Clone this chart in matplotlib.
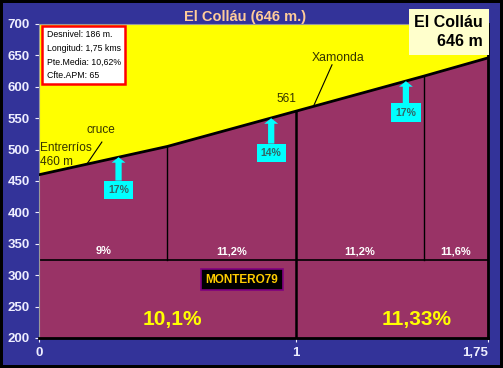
import matplotlib.pyplot as plt

# profile data (km, m)
dist = [0, 0.5, 1.0, 1.5, 1.75]
elev = [460, 505, 561, 617, 646]
seg_grades = ['9%', '11,2%', '11,2%', '11,6%']
km_grades = ['10,1%', '11,33%']
km_grade_x = [0.52, 1.47]

# steep ramps: position, elevation at tip, label
ramp_x = [0.31, 0.905, 1.43]
ramp_tip = [488, 550, 609]
ramp_box_y = [436, 495, 559]
ramp_labels = ['17%', '14%', '17%']

info_lines = ['Desnivel: 186 m.', 'Longitud: 1,75 kms', 'Pte.Media: 10,62%', 'Cfte.APM: 65']

maroon = '#993366'
blue_bg = '#333399'
tick_col = '#EEEEFF'
font = 'Liberation Sans'

plt.rcParams['font.family'] = [font, 'DejaVu Sans']

fig = plt.figure(figsize=(5.03, 3.68), dpi=100)
fig.patch.set_facecolor(blue_bg)
fig.patch.set_edgecolor('black')
fig.patch.set_linewidth(3)
ax = fig.add_axes([39 / 503, 1 - 338 / 368, 449 / 503, 314 / 368])
ax.set_facecolor('#FFFF00')

ax.fill_between(dist, elev, 200, color=maroon, zorder=1)
ax.plot(dist, elev, color='black', lw=2, zorder=4)

# segment separators
ax.axhline(325, color='black', lw=1.2, zorder=2)
ax.plot([1, 1], [200, elev[2]], color='black', lw=1.8, zorder=2)
for i in (1, 3):
    ax.plot([dist[i], dist[i]], [325, elev[i]], color='black', lw=1, zorder=2)

for i, g in enumerate(seg_grades):
    xm = (dist[i] + dist[i + 1]) / 2
    ax.text(xm, 338, g, color='white', fontsize=8, fontweight='bold',
            ha='center', va='center', zorder=5)

for xk, g in zip(km_grade_x, km_grades):
    ax.text(xk, 229, g, color='#FFFF00', fontsize=15, fontweight='bold',
            ha='center', va='center', zorder=5)

# ramp arrows
for xr, yt, yb, lab in zip(ramp_x, ramp_tip, ramp_box_y, ramp_labels):
    ax.annotate(lab, xy=(xr, yt), xytext=(xr, yb), color='#336666',
                fontsize=7.5, fontweight='bold', ha='center', va='center',
                bbox=dict(boxstyle='square,pad=0.4', fc='#00FFFF', ec='none'),
                arrowprops=dict(arrowstyle='simple,head_length=0.4,head_width=1.0,tail_width=0.45',
                                fc='#00FFFF', ec='none', mutation_scale=10,
                                shrinkA=0, shrinkB=0),
                zorder=6)

# place names
ax.text(0.004, 492, 'Entrerríos\n460 m', color='#333300', fontsize=8.5,
        ha='left', va='center', linespacing=1.2, zorder=5)
ax.text(0.24, 521, 'cruce', color='#333300', fontsize=8.5, ha='center', va='bottom', zorder=5)
ax.plot([0.245, 0.19], [512, 479], color='black', lw=0.8, zorder=5)
ax.text(1.165, 637, 'Xamonda', color='#333300', fontsize=8.8, ha='center', va='bottom', zorder=5)
ax.plot([1.142, 1.072], [635, 571], color='black', lw=0.8, zorder=5)
ax.text(0.963, 580, '561', color='#333300', fontsize=8.5, ha='center', va='center', zorder=5)

ax.text(0.79, 293, 'MONTERO79', color='#FFCC00', fontsize=8.5, fontweight='bold',
        ha='center', va='center', zorder=6,
        bbox=dict(boxstyle='square,pad=0.4', fc='black', ec='#800080', lw=1.2))

# info box
ax.text(0.03, 690, '\n'.join(info_lines), color='black', fontsize=6.3,
        ha='left', va='top', linespacing=1.65, zorder=6,
        bbox=dict(boxstyle='square,pad=0.5', fc='white', ec='#FF0000', lw=1.8))

fig.text(0.487, 1 - 17 / 368, 'El Colláu (646 m.)', color='#FFCC99', fontsize=10.5,
         fontweight='bold', ha='center', va='center')
fig.text(483 / 503, 1 - 32 / 368, 'El Colláu\n646 m', color='black', fontsize=11.5,
         fontweight='bold', ha='right', va='center', linespacing=1.35,
         bbox=dict(boxstyle='square,pad=0.35', fc='#FFFFCC', ec='none'))

ax.set_xlim(0, 1.75)
ax.set_ylim(200, 700)
ax.set_yticks(range(200, 701, 50))
ax.set_xticks([0, 1, 1.75])
ax.set_xticklabels(['0', '1', '1,75'])
ax.tick_params(colors=tick_col, labelsize=9.5, length=3)
for lab in ax.get_xticklabels() + ax.get_yticklabels():
    lab.set_fontweight('bold')
    lab.set_color(tick_col)
ax.get_xticklabels()[-1].set_horizontalalignment('right')
ax.spines['left'].set_color('#999999')
ax.spines['top'].set_color('#999999')
ax.spines['left'].set_linewidth(0.8)
ax.spines['top'].set_linewidth(0.8)
ax.spines['bottom'].set_color('black')
ax.spines['right'].set_color('black')
ax.spines['bottom'].set_linewidth(2)
ax.spines['right'].set_linewidth(2)

fig.savefig('out.png', dpi=100, facecolor=fig.get_facecolor(), edgecolor=fig.get_edgecolor())
